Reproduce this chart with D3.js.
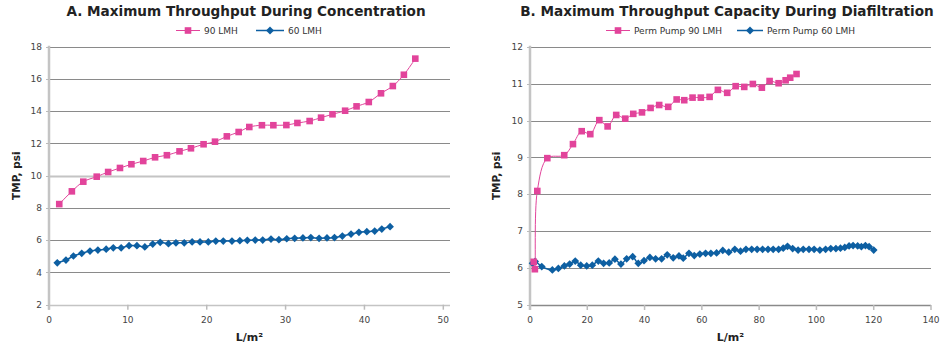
<!DOCTYPE html>
<html><head><meta charset="utf-8">
<script src="https://cdn.jsdelivr.net/npm/d3@7"></script>
<style>
body{margin:0;background:#fff;}
svg{display:block;}
text{font-family:"DejaVu Sans",Verdana,sans-serif;}
</style></head>
<body>
<svg id="c" width="950" height="350"></svg>
<script>
// ---------- DATA ----------
// Panel A: Maximum Throughput During Concentration
const aTitle = "A. Maximum Throughput During Concentration";
const aSeriesNames = ["90 LMH", "60 LMH"];
const a90x = [1.3,2.9,4.35,6.05,7.5,9.0,10.45,11.95,13.45,14.95,16.55,18.0,19.6,21.05,22.55,24.05,25.4,27.0,28.45,30.1,31.5,33.05,34.5,35.95,37.55,39.0,40.55,42.1,43.6,45.0,46.45];
const a90y = [8.24,9.03,9.63,9.94,10.23,10.48,10.71,10.91,11.14,11.27,11.51,11.70,11.95,12.11,12.44,12.71,13.02,13.13,13.13,13.14,13.27,13.39,13.60,13.81,14.03,14.30,14.57,15.11,15.56,16.26,17.26];
const a60x = [1.05,2.15,3.1,4.15,5.2,6.2,7.25,8.15,9.15,10.15,11.15,12.15,13.15,14.1,15.15,16.1,17.15,18.15,19.15,20.2,21.15,22.1,23.2,24.2,25.15,26.15,27.1,28.15,29.15,30.15,31.15,32.2,33.2,34.25,35.25,36.2,37.2,38.3,39.3,40.3,41.3,42.2,43.25];
const a60y = [4.60,4.77,5.02,5.19,5.33,5.39,5.44,5.53,5.53,5.66,5.66,5.58,5.76,5.87,5.78,5.84,5.84,5.89,5.89,5.89,5.95,5.95,5.95,5.97,5.99,6.01,6.01,6.07,6.03,6.09,6.12,6.14,6.16,6.12,6.14,6.16,6.26,6.38,6.49,6.53,6.57,6.69,6.84];
const aXTicks = [0,10,20,30,40,50];
const aYTicks = [2,4,6,8,10,12,14,16,18];

// Panel B: Maximum Throughput Capacity During Diafiltration
const bTitle = "B. Maximum Throughput Capacity During Diafiltration";
const bSeriesNames = ["Perm Pump 90 LMH", "Perm Pump 60 LMH"];
const b90x = [1.3,1.7,2.55,6.05,11.95,15.0,18.05,21.05,24.2,27.1,30.1,33.25,36.05,39.1,42.1,45.1,48.25,51.2,53.85,56.75,59.65,62.7,65.6,68.85,71.8,74.8,77.8,80.95,83.65,86.8,89.25,90.85,93.05];
const b90y = [6.17,5.97,8.09,8.98,9.06,9.36,9.71,9.63,10.01,9.84,10.15,10.05,10.18,10.22,10.34,10.42,10.37,10.57,10.55,10.62,10.62,10.64,10.83,10.75,10.93,10.91,10.99,10.89,11.07,11.01,11.09,11.16,11.26];
const b60x = [0.9,1.8,4.1,7.8,9.9,12.0,13.85,15.8,17.7,19.8,21.75,23.85,25.7,27.65,29.65,31.75,33.75,35.85,37.8,39.8,41.85,43.85,45.95,47.9,50.0,52.0,53.5,55.5,57.35,59.3,61.3,63.15,65.15,67.3,69.4,71.5,73.5,75.4,77.4,79.3,81.2,83.1,84.9,86.8,88.4,89.9,91.7,93.6,95.4,97.4,99.2,101.2,103.2,105.0,106.8,108.4,109.9,111.4,112.8,114.4,115.7,117.1,118.4,120.0];
const b60y = [6.13,6.18,6.04,5.95,5.99,6.06,6.11,6.19,6.08,6.06,6.08,6.19,6.13,6.14,6.24,6.11,6.25,6.31,6.13,6.20,6.29,6.25,6.25,6.36,6.28,6.33,6.27,6.40,6.34,6.38,6.40,6.40,6.41,6.48,6.43,6.51,6.46,6.51,6.51,6.51,6.51,6.51,6.51,6.51,6.54,6.59,6.53,6.49,6.51,6.51,6.51,6.49,6.51,6.53,6.53,6.54,6.56,6.60,6.61,6.60,6.58,6.61,6.58,6.49];
const bXTicks = [0,20,40,60,80,100,120,140];
const bYTicks = [5,6,7,8,9,10,11,12];

const yTitle = "TMP, psi";
const xTitle = "L/m\u00B2";
const pink = "#e2449b";
const blue = "#0d5fa2";

// ---------- DRAW ----------
const svg = d3.select("#c");

function panel(o){
  const g = svg.append("g");
  const x = d3.scaleLinear().domain(o.xDomain).range([o.left, o.xEnd]);
  const y = d3.scaleLinear().domain(o.yDomain).range([o.bottom, o.top]);

  // gridlines
  g.selectAll("line.grid").data(o.yTicks.slice(1)).join("line")
    .attr("x1", o.left).attr("x2", o.right)
    .attr("y1", d=>Math.round(y(d))+0.5).attr("y2", d=>Math.round(y(d))+0.5)
    .attr("stroke", d=> d===o.lightGrid ? "#c4c4c4" : "#8a8a8a")
    .attr("stroke-width", d=> d===o.lightGrid ? 2 : 1);

  // y axis labels
  g.selectAll("text.yt").data(o.yTicks).join("text")
    .attr("x", o.left-7).attr("y", d=>y(d)).attr("dy","0.35em")
    .attr("text-anchor","end").attr("font-size", 9).attr("fill","#444")
    .text(d=>d);

  // x axis line
  g.append("line").attr("x1", o.left).attr("x2", o.right)
    .attr("y1", Math.round(o.bottom)+0.5).attr("y2", Math.round(o.bottom)+0.5)
    .attr("stroke", o.bottomColor).attr("stroke-width", 1.5);
  // x ticks
  g.selectAll("line.xt").data(o.xTicks).join("line")
    .attr("x1", d=>x(d)).attr("x2", d=>x(d))
    .attr("y1", o.bottom).attr("y2", o.bottom+5)
    .attr("stroke", "#bbb").attr("stroke-width", 1.5);
  g.selectAll("text.xl").data(o.xTicks).join("text")
    .attr("x", d=>x(d)).attr("y", o.bottom+18)
    .attr("text-anchor","middle").attr("font-size", 9).attr("fill","#444")
    .text(d=>d);
  // y axis line
  g.append("line").attr("x1", o.left).attr("x2", o.left)
    .attr("y1", o.top-1).attr("y2", o.bottom+5)
    .attr("stroke", "#c4c4c4").attr("stroke-width", 2.5);
  // y ticks small
  g.selectAll("line.ytk").data(o.yTicks).join("line")
    .attr("x1", o.left-3).attr("x2", o.left)
    .attr("y1", d=>Math.round(y(d))+0.5).attr("y2", d=>Math.round(y(d))+0.5)
    .attr("stroke", "#bbb");

  // titles
  g.append("text").attr("x", o.titleX).attr("y", 16).attr("text-anchor","middle")
    .attr("font-size", 13.6).attr("font-weight","bold").attr("fill","#222").text(o.title);
  g.append("text").attr("transform", `translate(${o.yTitleX},${(o.top+o.bottom)/2}) rotate(-90)`)
    .attr("text-anchor","middle").attr("font-size", 10.5).attr("font-weight","bold").attr("fill","#222")
    .text(yTitle);
  g.append("text").attr("x", (o.left+o.right)/2).attr("y", 341).attr("text-anchor","middle")
    .attr("font-size", 11).attr("font-weight","bold").attr("fill","#222").text(xTitle);

  const line = d3.line().x(d=>x(d[0])).y(d=>y(d[1])).curve(d3.curveCatmullRom.alpha(0.5));

  // series
  const s90 = o.x90.map((v,i)=>[v,o.y90[i]]);
  const s60 = o.x60.map((v,i)=>[v,o.y60[i]]);

  g.append("path").attr("d", line(s60)).attr("fill","none").attr("stroke", blue).attr("stroke-width",1.5);
  g.selectAll("path.dm").data(s60).join("path")
    .attr("d", d3.symbol().type(d3.symbolSquare).size(30))
    .attr("transform", d=>`translate(${x(d[0])},${y(d[1])}) rotate(45)`)
    .attr("fill", blue);

  g.append("path").attr("d", line(s90)).attr("fill","none").attr("stroke", pink).attr("stroke-width",1);
  g.selectAll("rect.sq").data(s90).join("rect")
    .attr("x", d=>x(d[0])-3.3).attr("y", d=>y(d[1])-3.3)
    .attr("width", 6.6).attr("height", 6.6).attr("fill", pink);

  // legend
  const L = o.legend;
  const lg = g.append("g");
  lg.append("line").attr("x1", L[0]).attr("x2", L[1]).attr("y1", 30.5).attr("y2", 30.5).attr("stroke", pink).attr("stroke-width",1);
  lg.append("rect").attr("x", (L[0]+L[1])/2-3.3).attr("y", 27.2).attr("width",6.6).attr("height",6.6).attr("fill",pink);
  lg.append("text").attr("x", L[1]+4).attr("y", 30.5).attr("dy","0.35em").attr("font-size",9).attr("fill","#333").text(o.names[0]);
  lg.append("line").attr("x1", L[2]).attr("x2", L[3]).attr("y1", 30.5).attr("y2", 30.5).attr("stroke", blue).attr("stroke-width",1.5);
  lg.append("path").attr("d", d3.symbol().type(d3.symbolSquare).size(32)).attr("transform", `translate(${(L[2]+L[3])/2},30.5) rotate(45)`).attr("fill", blue);
  lg.append("text").attr("x", L[3]+4).attr("y", 30.5).attr("dy","0.35em").attr("font-size",9).attr("fill","#333").text(o.names[1]);
}

panel({
  title: aTitle, titleX: 246, names: aSeriesNames,
  xDomain:[0,50], yDomain:[2,18], left:49, xEnd:443.3, right:450, top:46.7, bottom:304.7,
  xTicks:aXTicks, yTicks:aYTicks, x90:a90x, y90:a90y, x60:a60x, y60:a60y,
  yTitleX: 20, bottomColor:"#c4c4c4", legend:[176,200,256,284], lightGrid:10
});
panel({
  title: bTitle, titleX: 727, names: bSeriesNames,
  xDomain:[0,140], yDomain:[5,12], left:530, xEnd:931, right:931, top:46.7, bottom:305,
  xTicks:bXTicks, yTicks:bYTicks, x90:b90x, y90:b90y, x60:b60x, y60:b60y,
  yTitleX: 500, bottomColor:"#8a8a8a", legend:[606,630,737,763], lightGrid:null
});
</script>
</body></html>
